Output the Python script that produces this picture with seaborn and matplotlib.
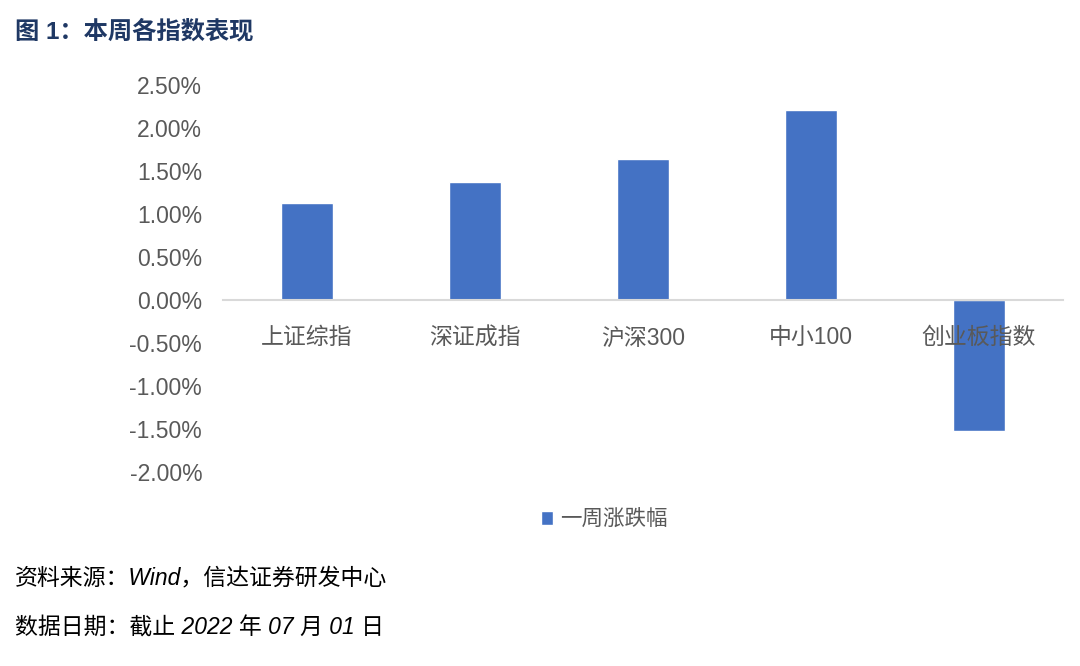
import matplotlib
matplotlib.use("Agg")
import matplotlib.pyplot as plt
import seaborn as sns
import pandas as pd
from matplotlib.ticker import FuncFormatter, MultipleLocator

categories = ["上证综指", "深证成指", "沪深300", "中小100", "创业板指数"]
values = [1.13, 1.37, 1.64, 2.21, -1.52]
series_name = "一周涨跌幅"
title = "图 1：本周各指数表现"
note1 = "资料来源：Wind，信达证券研发中心"
note2 = "数据日期：截止 2022 年 07 月 01 日"

sns.set_theme(style="white")
plt.rcParams['font.family'] = ['Liberation Sans', 'Noto Sans CJK SC', 'DejaVu Sans']

df = pd.DataFrame({"cat": categories, "val": values, "series": series_name})

fig = plt.figure(figsize=(10.8, 6.66), dpi=100)
ax = fig.add_axes([223/1080, 1 - 472/666, 840/1080, (472-85)/666])

sns.barplot(data=df, x="cat", y="val", hue="series", palette=["#4472C4"],
            width=0.31, ax=ax, legend=True, saturation=1)

ax.set_axisbelow(False)
ax.set_ylim(-2.0, 2.5)
ax.yaxis.set_major_locator(MultipleLocator(0.5))
ax.yaxis.set_major_formatter(FuncFormatter(lambda v, p: f"{v:.2f}%"))
ax.set_xlabel("")
ax.set_ylabel("")
for s in ["top", "right", "left"]:
    ax.spines[s].set_visible(False)
ax.spines["bottom"].set_position(("data", 0))
ax.spines["bottom"].set_color("#D9D9D9")
ax.spines["bottom"].set_linewidth(1.5)
ax.tick_params(axis="x", length=0, pad=19, labelsize=16.5, labelcolor="#595959")
ax.tick_params(axis="y", length=0, pad=15, labelsize=16.5, labelcolor="#595959")
ax.grid(False)

leg = ax.legend(loc="center", bbox_to_anchor=(604/1080, 1 - 520/666),
                bbox_transform=fig.transFigure, frameon=False, fontsize=15.5,
                handlelength=0.6, handleheight=0.6, handletextpad=0.3)
for t in leg.get_texts():
    t.set_color("#595959")

fig.text(15/1080, 1 - 32/666, title, fontsize=17.5, fontweight="bold",
         color="#1F3864", va="center", ha="left")
fig.text(15/1080, 1 - 578/666, note1, fontsize=16.5, style="italic",
         color="black", va="center", ha="left")
fig.text(15/1080, 1 - 628/666, note2, fontsize=16.5, style="italic",
         color="black", va="center", ha="left")

fig.savefig("out.png", dpi=100)
